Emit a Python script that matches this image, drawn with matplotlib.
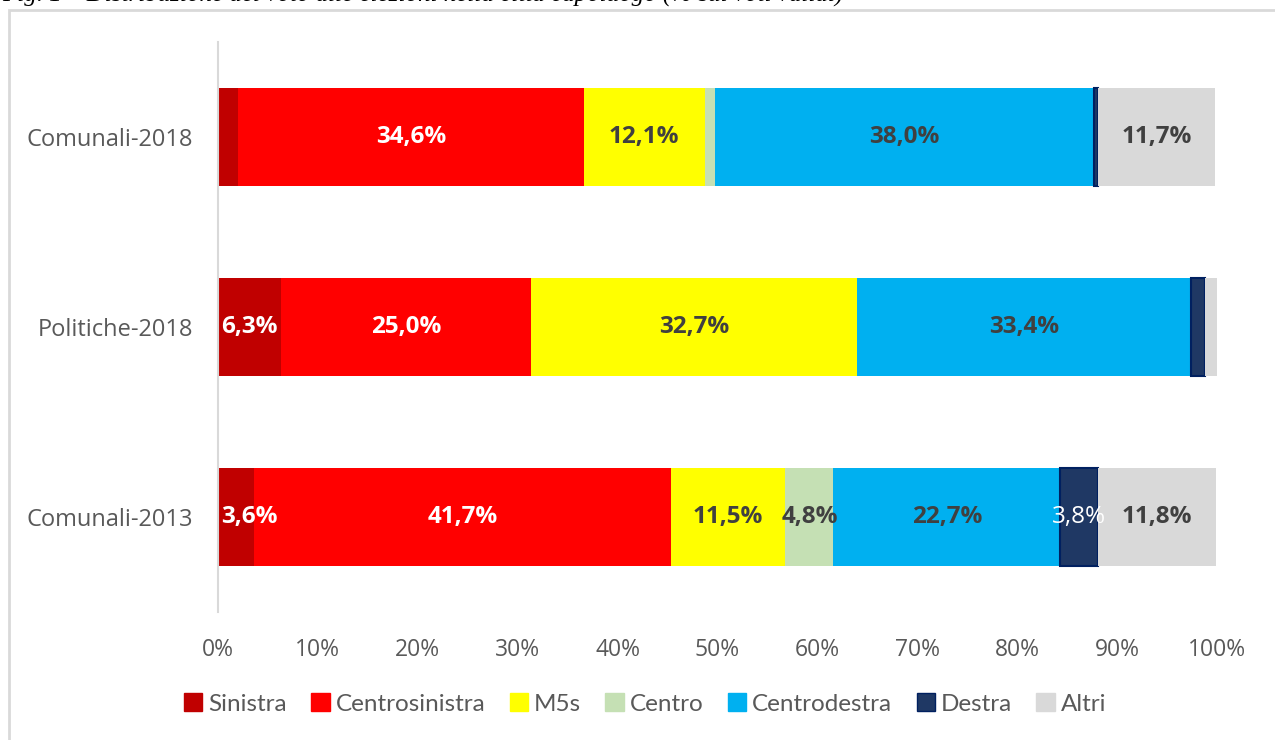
import matplotlib
matplotlib.use("Agg")
import matplotlib.pyplot as plt
from matplotlib.patches import Rectangle, Patch

categories = ["Comunali-2013", "Politiche-2018", "Comunali-2018"]
series = ["Sinistra", "Centrosinistra", "M5s", "Centro", "Centrodestra", "Destra", "Altri"]
values = {
    "Sinistra":       [3.6, 6.3, 2.0],
    "Centrosinistra": [41.7, 25.0, 34.6],
    "M5s":            [11.5, 32.7, 12.1],
    "Centro":         [4.8, 0.0, 1.0],
    "Centrodestra":   [22.7, 33.4, 38.0],
    "Destra":         [3.8, 1.4, 0.4],
    "Altri":          [11.8, 1.2, 11.7],
}
# which values carry a data label (per category)
labeled = {
    "Sinistra":       [True, True, False],
    "Centrosinistra": [True, True, True],
    "M5s":            [True, True, True],
    "Centro":         [True, False, False],
    "Centrodestra":   [True, True, True],
    "Destra":         [True, False, False],
    "Altri":          [True, False, True],
}
xticks = [0, 10, 20, 30, 40, 50, 60, 70, 80, 90, 100]

colors = {
    "Sinistra": "#C00000", "Centrosinistra": "#FF0000", "M5s": "#FFFF00",
    "Centro": "#C5E0B4", "Centrodestra": "#00B0F0", "Destra": "#1F3864", "Altri": "#D9D9D9",
}
edges = {"Destra": "#002060"}
label_color = {
    "Sinistra": "white", "Centrosinistra": "white", "M5s": "#404040", "Centro": "#404040",
    "Centrodestra": "#404040", "Destra": "white", "Altri": "#404040",
}
label_weight = {s: "bold" for s in series}
label_weight["Destra"] = "normal"

FONT = ["Open Sans", "DejaVu Sans"]
plt.rcParams["font.family"] = FONT

fig = plt.figure(figsize=(12.75, 7.4), dpi=100)
W, H = 1275, 740
ax = fig.add_axes([218 / W, 1 - 612 / H, (1217 - 218) / W, (612 - 42) / H])

# outer frame
fig.patches.append(Rectangle((9 / W, -0.05), 1.2, 1 - 10 / H + 0.05, transform=fig.transFigure,
                             fill=False, edgecolor="#D9D9D9", linewidth=2, zorder=0))
# clipped caption line at the very top (only its lowest part is visible)
fig.text(2 / W, 1 - 2 / H, "Fig. 1 – Distribuzione del voto alle elezioni nella città capoluogo (% sui voti validi)",
         family=["Liberation Serif"], style="italic", fontsize=18, va="baseline", ha="left")

y = list(range(len(categories)))
left = [0.0] * len(categories)
for s in series:
    v = values[s]
    ax.barh(y, v, left=left, height=0.52, color=colors[s],
            edgecolor=edges.get(s, colors[s]), linewidth=1.5 if s in edges else 0, label=s)
    for i, (val, l0) in enumerate(zip(v, left)):
        if labeled[s][i] and val > 0:
            txt = f"{val:.1f}%".replace(".", ",")
            cx = l0 + val / 2
            if cx < 3.1:
                ax.text(0.3, y[i], txt, ha="left", va="center", color=label_color[s],
                        fontsize=17.5, fontweight=label_weight[s])
            else:
                ax.text(cx, y[i], txt, ha="center", va="center",
                        color=label_color[s], fontsize=17.5, fontweight=label_weight[s])
    left = [a + b for a, b in zip(left, v)]

ax.set_xlim(0, 100)
ax.set_ylim(-0.5, 2.5)
ax.set_yticks(y)
ax.set_yticklabels(categories, fontsize=17, color="#595959")
ax.set_xticks(xticks)
ax.set_xticklabels([f"{t}%" for t in xticks], fontsize=16.5, color="#595959")
ax.tick_params(axis="both", length=0)
ax.tick_params(axis="y", pad=18)
ax.tick_params(axis="x", pad=19)
for sp in ["top", "right", "bottom"]:
    ax.spines[sp].set_visible(False)
ax.spines["left"].set_color("#D9D9D9")
ax.spines["left"].set_linewidth(1.5)

handles = [Patch(facecolor=colors[s], edgecolor=edges.get(s, colors[s])) for s in series]
fig.legend(handles, series, loc="center", bbox_to_anchor=(0.506, 1 - 704 / H), ncol=7,
           frameon=False, prop={"family": ["Lato", "DejaVu Sans"], "size": 17.5},
           labelcolor="#595959", handlelength=0.75, handleheight=0.75,
           handletextpad=0.25, columnspacing=1.0)

fig.savefig("out.png", dpi=100)
